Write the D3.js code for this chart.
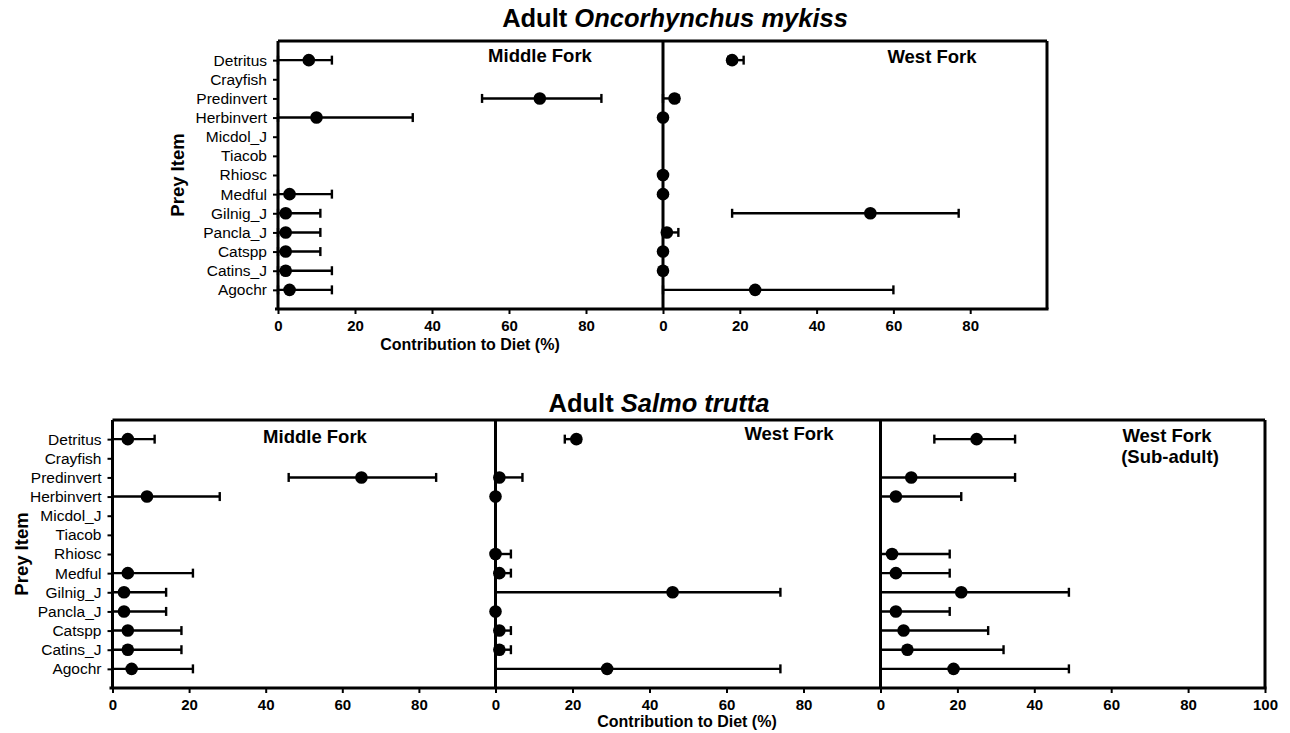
<!DOCTYPE html>
<html>
<head>
<meta charset="utf-8">
<script src="https://cdn.jsdelivr.net/npm/d3@7"></script>
<style>
  html, body { margin: 0; padding: 0; background: #fff; }
  svg { display: block; font-family: "Liberation Sans", Arial, sans-serif; }
</style>
</head>
<body>
<svg id="chart" width="1290" height="733"></svg>
<script>
// Prey items, listed top to bottom
const preyItems = ["Detritus", "Crayfish", "Predinvert", "Herbinvert", "Micdol_J", "Tiacob",
  "Rhiosc", "Medful", "Gilnig_J", "Pancla_J", "Catspp", "Catins_J", "Agochr"];

const xTicksShort = [0, 20, 40, 60, 80];
const xTicksFull = [0, 20, 40, 60, 80, 100];

// Adult Oncorhynchus mykiss — Middle Fork (median, lower, upper; null = not in diet)
const omMiddleMean = [8, null, 68, 10, null, null, null, 3, 2, 2, 2, 2, 3];
const omMiddleLow  = [0, null, 53, 0, null, null, null, 0, 0, 0, 0, 0, 0];
const omMiddleHigh = [14, null, 84, 35, null, null, null, 14, 11, 11, 11, 14, 14];

// Adult Oncorhynchus mykiss — West Fork
const omWestMean = [18, null, 3, 0, null, null, 0, 0, 54, 1, 0, 0, 24];
const omWestLow  = [17, null, 0, 0, null, null, 0, 0, 18, 0, 0, 0, 0];
const omWestHigh = [21, null, 4, 0, null, null, 0, 0, 77, 4, 0, 0, 60];

// Adult Salmo trutta — Middle Fork
const stMiddleMean = [4, null, 65, 9, null, null, null, 4, 3, 3, 4, 4, 5];
const stMiddleLow  = [0, null, 46, 0, null, null, null, 0, 0, 0, 0, 0, 0];
const stMiddleHigh = [11, null, 84.5, 28, null, null, null, 21, 14, 14, 18, 18, 21];

// Adult Salmo trutta — West Fork
const stWestMean = [21, null, 1, 0, null, null, 0, 1, 46, 0, 1, 1, 29];
const stWestLow  = [18, null, 0, 0, null, null, 0, 0, 0, 0, 0, 0, 0];
const stWestHigh = [22, null, 7, 0, null, null, 4, 4, 74, 0, 4, 4, 74];

// Salmo trutta — West Fork (Sub-adult)
const stSubMean = [25, null, 8, 4, null, null, 3, 4, 21, 4, 6, 7, 19];
const stSubLow  = [14, null, 0, 0, null, null, 0, 0, 0, 0, 0, 0, 0];
const stSubHigh = [35, null, 35, 21, null, null, 18, 18, 49, 18, 28, 32, 49];

const svg = d3.select("#chart");
const AXIS_W = 3, BAR_W = 2.4, CAP_H = 9, DOT_R = 6.3;

function styleAxis(g) {
  g.select(".domain").attr("stroke", "#000").attr("stroke-width", AXIS_W);
  g.selectAll(".tick line").attr("stroke", "#000").attr("stroke-width", 2);
  g.selectAll(".tick text").attr("fill", "#000");
}

// One sub-panel: x axis along the bottom, error bars and points per prey item
function drawPanel(root, x0, x1, y, mean, low, high, ticks) {
  const [yTop, yBot] = y.range();
  const x = d3.scaleLinear().domain([0, 100]).range([x0, x1]);

  const ax = root.append("g")
    .attr("transform", `translate(0,${yBot})`)
    .call(d3.axisBottom(x).tickValues(ticks).tickSize(5).tickSizeOuter(0).tickPadding(6));
  ax.select(".domain").remove();
  ax.selectAll(".tick line").attr("stroke", "#000").attr("stroke-width", 2);
  ax.selectAll(".tick text").attr("font-size", 15).attr("font-weight", "bold").attr("fill", "#000");

  // panel's zero line
  root.append("line").attr("x1", x(0)).attr("x2", x(0)).attr("y1", yTop).attr("y2", yBot)
    .attr("stroke", "#000").attr("stroke-width", AXIS_W);

  const rows = preyItems.map((p, i) => ({ p, m: mean[i], lo: low[i], hi: high[i] }))
    .filter(d => d.m !== null);

  const bars = root.append("g").attr("stroke", "#000").attr("stroke-width", BAR_W);
  rows.filter(d => d.hi > d.lo).forEach(d => {
    const yy = y(d.p);
    bars.append("line").attr("x1", x(d.lo)).attr("x2", x(d.hi)).attr("y1", yy).attr("y2", yy);
    bars.append("line").attr("x1", x(d.lo)).attr("x2", x(d.lo)).attr("y1", yy - CAP_H / 2).attr("y2", yy + CAP_H / 2);
    bars.append("line").attr("x1", x(d.hi)).attr("x2", x(d.hi)).attr("y1", yy - CAP_H / 2).attr("y2", yy + CAP_H / 2);
  });

  root.append("g").selectAll("circle").data(rows).join("circle")
    .attr("cx", d => x(d.m)).attr("cy", d => y(d.p)).attr("r", DOT_R).attr("fill", "#000");
  return x;
}

function drawFigure(cfg) {
  const root = svg.append("g");
  const y = d3.scalePoint().domain(preyItems).range([cfg.yTop, cfg.yBot]).padding(1);
  const xLeft = cfg.panels[0].x0, xRight = cfg.panels[cfg.panels.length - 1].x1;

  // frame: top edge, right edge, bottom axis line
  root.append("line").attr("x1", xLeft).attr("x2", xRight).attr("y1", cfg.yTop).attr("y2", cfg.yTop)
    .attr("stroke", "#000").attr("stroke-width", AXIS_W);
  root.append("line").attr("x1", xRight).attr("x2", xRight).attr("y1", cfg.yTop).attr("y2", cfg.yBot)
    .attr("stroke", "#000").attr("stroke-width", AXIS_W);
  root.append("line").attr("x1", xLeft - 3).attr("x2", xRight + 1.5).attr("y1", cfg.yBot).attr("y2", cfg.yBot)
    .attr("stroke", "#000").attr("stroke-width", AXIS_W);

  // prey item axis
  const ay = root.append("g").attr("transform", `translate(${xLeft},0)`)
    .call(d3.axisLeft(y).tickSize(5).tickSizeOuter(0).tickPadding(6));
  styleAxis(ay);
  ay.select(".domain").remove();
  ay.selectAll(".tick text").attr("font-size", 15.5);

  cfg.panels.forEach(p => drawPanel(root, p.x0, p.x1, y, p.mean, p.low, p.high, p.ticks));

  // panel labels
  cfg.labels.forEach(l => {
    root.append("text").attr("x", l.x).attr("y", l.y).attr("text-anchor", "middle")
      .attr("font-size", 18.5).attr("font-weight", "bold").text(l.text);
  });

  // titles
  const t = root.append("text").attr("x", cfg.titleX).attr("y", cfg.titleY)
    .attr("text-anchor", "middle").attr("font-size", 25.5).attr("font-weight", "bold");
  t.append("tspan").text("Adult ");
  t.append("tspan").attr("font-style", "italic").text(cfg.species);

  root.append("text").attr("transform", `translate(${cfg.yLabelX},${(cfg.yTop + cfg.yBot) / 2}) rotate(-90)`)
    .attr("text-anchor", "middle").attr("dy", "0.35em")
    .attr("font-size", 18.5).attr("font-weight", "bold").text("Prey Item");

  root.append("text").attr("x", cfg.xLabelX).attr("y", cfg.xLabelY).attr("text-anchor", "middle")
    .attr("font-size", 16).attr("font-weight", "bold").text("Contribution to Diet (%)");
}

drawFigure({
  species: "Oncorhynchus mykiss",
  titleX: 675, titleY: 27,
  yTop: 41, yBot: 309, yLabelX: 178,
  xLabelX: 470, xLabelY: 350,
  panels: [
    { x0: 278, x1: 663, mean: omMiddleMean, low: omMiddleLow, high: omMiddleHigh, ticks: xTicksShort },
    { x0: 663, x1: 1047, mean: omWestMean, low: omWestLow, high: omWestHigh, ticks: xTicksShort }
  ],
  labels: [
    { text: "Middle Fork", x: 540, y: 62 },
    { text: "West Fork", x: 932, y: 63 }
  ]
});

drawFigure({
  species: "Salmo trutta",
  titleX: 659, titleY: 412,
  yTop: 420, yBot: 688, yLabelX: 22,
  xLabelX: 687, xLabelY: 727,
  panels: [
    { x0: 112.5, x1: 495.5, mean: stMiddleMean, low: stMiddleLow, high: stMiddleHigh, ticks: xTicksShort },
    { x0: 495.5, x1: 880.5, mean: stWestMean, low: stWestLow, high: stWestHigh, ticks: xTicksShort },
    { x0: 880.5, x1: 1265, mean: stSubMean, low: stSubLow, high: stSubHigh, ticks: xTicksFull }
  ],
  labels: [
    { text: "Middle Fork", x: 315, y: 443 },
    { text: "West Fork", x: 789, y: 440 },
    { text: "West Fork", x: 1167, y: 442 },
    { text: "(Sub-adult)", x: 1170, y: 463 }
  ]
});
</script>
</body>
</html>
